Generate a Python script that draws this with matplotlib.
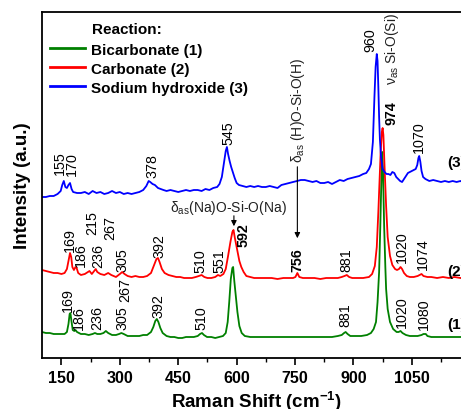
import matplotlib
matplotlib.use("Agg")
import matplotlib.pyplot as plt
from matplotlib.lines import Line2D

plt.rcParams["font.family"] = ["Liberation Sans", "DejaVu Sans"]
plt.rcParams["mathtext.fontset"] = "custom"
plt.rcParams["mathtext.rm"] = "Liberation Sans"
plt.rcParams["mathtext.it"] = "Liberation Sans:italic"
plt.rcParams["mathtext.bf"] = "Liberation Sans:bold"

# ---- spectra (Raman shift, offset intensity in a.u.) ----
blue_x = [100, 110, 120, 130, 140, 148, 152, 156, 160, 164, 168, 172, 176, 180, 190, 200, 210, 220, 230, 240,
          250, 260, 270, 280, 290, 300, 310, 320, 330, 340, 350, 360, 368, 374, 378, 384, 390, 398, 405, 412,
          420, 430, 440, 450, 460, 470, 480, 490, 500, 510, 520, 530, 540, 550, 556, 562, 568, 572, 575, 578,
          582, 586, 590, 595, 600, 606, 615, 625, 635, 645, 655, 665, 675, 685, 695, 705, 715, 725, 735, 745,
          755, 765, 775, 785, 795, 805, 815, 825, 835, 845, 855, 865, 875, 885, 895, 905, 915, 925, 933, 940,
          945, 950, 954, 957, 960, 962, 964, 966, 968, 971, 975, 980, 985, 990, 995, 1000, 1005, 1010, 1015, 1020,
          1025, 1030, 1035, 1040, 1045, 1050, 1055, 1060, 1064, 1067, 1069, 1072, 1075, 1079, 1085, 1095, 1105,
          1115, 1125, 1135, 1145, 1155, 1165, 1175, 1185, 1195, 1200]
blue_y = [160, 160, 161, 161, 163, 166, 172, 176, 170, 169, 172, 174, 168, 165, 164, 164, 165, 163, 166, 164,
          165, 163, 164, 166, 164, 165, 163, 164, 163, 164, 165, 167, 171, 176, 175, 173, 172, 169, 168, 167,
          166, 167, 166, 165, 166, 167, 166, 167, 167, 166, 168, 167, 169, 170, 173, 180, 196, 206, 210, 203,
          196, 190, 185, 179, 174, 172, 171, 170, 171, 170, 171, 170, 170, 171, 170, 169, 172, 173, 174, 175,
          176, 177, 177, 176, 175, 176, 174, 174, 175, 173, 175, 177, 176, 178, 179, 180, 181, 183, 184, 188,
          193, 215, 260, 290, 303, 296, 270, 240, 218, 200, 188, 185, 183, 183, 182, 185, 184, 180, 178, 176,
          175, 178, 181, 184, 185, 186, 187, 188, 192, 199, 201, 195, 186, 180, 178, 176, 177,
          176, 175, 176, 175, 176, 175, 176, 174, 175, 175]

red_x = [100, 110, 120, 130, 140, 150, 158, 164, 168, 172, 175, 178, 182, 186, 189, 193, 200, 210, 218, 222,
         228, 234, 238, 242, 250, 260, 270, 278, 290, 300, 306, 312, 320, 330, 340, 350, 360, 370, 380, 388,
         394, 398, 402, 408, 415, 425, 435, 445, 455, 465, 475, 485, 495, 503, 510, 517, 525, 535, 545, 552,
         558, 566, 572, 578, 584, 589, 592, 595, 599, 603, 607, 612, 618, 625, 635, 645, 660, 675, 690, 705,
         720, 735, 745, 751, 756, 761, 770, 785, 800, 815, 830, 845, 860, 870, 877, 883, 889, 897, 910, 925,
         940, 948, 955, 960, 964, 967, 970, 973, 975, 977, 980, 984, 988, 994, 1000, 1007, 1012, 1017, 1021, 1025,
         1030, 1037, 1045, 1055, 1065, 1070, 1075, 1080, 1090, 1100, 1115, 1130, 1145, 1160, 1175, 1190, 1200]
red_y = [87, 86, 85, 84, 84, 83, 84, 88, 96, 104, 100, 90, 87, 90, 89, 84, 82, 83, 85, 86,
         83, 86, 88, 85, 83, 82, 84, 82, 80, 83, 85, 83, 81, 80, 81, 80, 80, 81, 84, 92,
         98, 99, 95, 88, 84, 82, 81, 80, 80, 79, 79, 79, 80, 81, 82, 80, 79, 79, 80, 82,
         81, 83, 88, 101, 115, 125, 127, 120, 112, 104, 96, 90, 85, 81, 80, 79, 79, 79, 79, 78,
         79, 79, 79, 80, 84, 80, 79, 79, 79, 78, 79, 79, 79, 80, 81, 82, 80, 79, 79, 79,
         80, 83, 91, 110, 145, 175, 205, 225, 229, 222, 190, 151, 120, 101, 92, 88, 87, 88, 90, 88,
         84, 81, 80, 80, 81, 82, 83, 81, 80, 80, 79, 80, 79, 80, 79, 80, 79]

green_x = [100, 110, 120, 130, 140, 150, 158, 164, 168, 171, 173, 176, 179, 183, 186, 190, 200, 210, 220, 230,
           236, 242, 250, 258, 264, 270, 280, 290, 298, 304, 310, 320, 330, 340, 350, 360, 370, 380, 386, 391,
           395, 399, 404, 410, 420, 430, 440, 450, 460, 470, 480, 490, 500, 506, 511, 516, 524, 535, 545, 555,
           565, 572, 577, 581, 585, 589, 591, 594, 598, 602, 607, 613, 621, 635, 650, 665, 680, 695, 710, 725,
           740, 755, 770, 785, 800, 815, 830, 845, 860, 870, 876, 880, 885, 892, 905, 920, 935, 945, 952, 958,
           962, 966, 969, 972, 974, 976, 979, 982, 984, 988, 994, 1002, 1011, 1016, 1021, 1026, 1035, 1045, 1055, 1065,
           1075, 1080, 1086, 1090, 1100, 1115, 1130, 1145, 1160, 1175, 1190, 1200]
green_y = [25, 24, 24, 23, 23, 23, 23, 25, 33, 43, 44, 35, 27, 26, 27, 25, 23, 23, 22, 23,
           24, 23, 23, 24, 26, 24, 22, 22, 23, 24, 23, 21, 21, 21, 21, 22, 22, 25, 30, 36,
           38, 35, 29, 24, 21, 20, 20, 19, 19, 20, 20, 20, 21, 23, 24, 22, 20, 20, 19, 20,
           21, 24, 35, 55, 78, 89, 90, 76, 60, 45, 31, 24, 21, 20, 20, 20, 20, 20, 20, 20,
           20, 20, 20, 20, 20, 20, 20, 20, 21, 22, 24, 25, 23, 21, 21, 21, 22, 24, 28, 35,
           55, 85, 130, 180, 205, 185, 130, 90, 68, 48, 35, 28, 25, 25, 26, 24, 22, 21, 21, 21,
           22, 23, 23, 21, 20, 20, 20, 20, 20, 20, 20, 20]

# ---- peak labels: (text, x, bottom y, bold) ----
blue_labels = [("155", 145.5, 183, False), ("170", 178, 182, False), ("378", 382.5, 180, False),
               ("545", 578, 213, False), ("960", 942.6, 306, False), ("1070", 1069, 205, False)]
red_labels = [("169", 172.8, 106, False), ("186", 200, 91, False), ("215", 228, 123, False),
              ("236", 245.5, 90, False), ("267", 275.5, 118, False), ("305", 305.5, 86, False),
              ("392", 401, 100, False), ("510", 506, 85, False), ("551", 555, 85, False),
              ("592", 617, 111, True), ("756", 756, 86, True), ("881", 882.6, 86, False),
              ("974", 998, 233, True), ("1020", 1024, 95, False), ("1074", 1079, 88, False)]
green_labels = [("169", 167, 46, False), ("186", 196, 28, False), ("236", 241, 28, False),
                ("305", 305.5, 28, False), ("267", 314, 56, False), ("392", 400, 40, False),
                ("510", 510, 28, False), ("881", 880, 31, False), ("1020", 1024, 30, False),
                ("1080", 1081, 28, False)]

series_names = ["Bicarbonate (1)", "Carbonate (2)", "Sodium hydroxide (3)"]
colors = ["#008000", "#ff0000", "#0000ff"]

fig = plt.figure(figsize=(4.61, 4.10), dpi=100)
ax = fig.add_axes([42 / 461, 51 / 410, 428.2 / 461, 346.3 / 410])

ax.plot(green_x, green_y, color=colors[0], lw=1.3)
ax.plot(red_x, red_y, color=colors[1], lw=1.3)
ax.plot(blue_x, blue_y, color=colors[2], lw=1.3)

for labels in (blue_labels, red_labels, green_labels):
    for txt, x, y, bold in labels:
        ax.text(x, y, txt, rotation=90, ha="center", va="bottom", fontsize=10.3,
                fontweight="bold" if bold else "normal")

# assignments
ax.text(578, 150, r"$\mathrm{\delta}_{\mathrm{as}}$(Na)O-Si-O(Na)", ha="center", va="center",
        fontsize=10, color="#222222")
ax.annotate("", xy=(593, 128), xytext=(593, 144),
            arrowprops=dict(arrowstyle="-|>", color="k", lw=0.8, mutation_scale=8))
ax.text(758, 195, r"$\mathrm{\delta}_{\mathrm{as}}$ (H)O-Si-O(H)", rotation=90, ha="center", va="bottom",
        fontsize=10, color="#222222")
ax.annotate("", xy=(756, 116), xytext=(756, 193),
            arrowprops=dict(arrowstyle="-|>", color="k", lw=0.8, mutation_scale=8))
ax.text(998, 273, r"$\mathrm{\nu}_{\mathrm{as}}$ Si-O(Si)", rotation=90, ha="center", va="bottom",
        fontsize=10, color="#222222")

for txt, y in (("(3)", 195), ("(2)", 86), ("(1)", 33)):
    ax.text(1142, y, txt, ha="left", va="center", fontsize=11, fontweight="bold")

# legend
handles = [Line2D([], [], color=c, lw=2) for c in colors]
ax.legend(handles, series_names, loc="upper left", bbox_to_anchor=(0.0187, 0.911), frameon=False,
          borderpad=0, borderaxespad=0, handlelength=2.3, handletextpad=0.4, labelspacing=0.33,
          prop={"weight": "bold", "size": 11})
ax.text(0.1168, 0.951, "Reaction:", transform=ax.transAxes, ha="left", va="center",
        fontsize=11, fontweight="bold")

ax.set_xlim(100, 1200)
ax.set_ylim(-1, 345.3)
ax.set_xticks([150, 300, 450, 600, 750, 900, 1050])
ax.set_xticks([225, 375, 525, 675, 825, 975, 1125], minor=True)
ax.set_yticks([])
ax.tick_params(axis="x", which="major", direction="out", length=5, width=1.2, labelsize=11.5)
ax.tick_params(axis="x", which="minor", direction="out", length=3, width=1.0)
for lab in ax.get_xticklabels():
    lab.set_fontweight("bold")
for sp in ax.spines.values():
    sp.set_linewidth(1.3)

ax.set_xlabel(r"Raman Shift (cm$^{\mathbf{-1}}$)", fontsize=13.5, fontweight="bold", labelpad=3)
ax.set_ylabel("Intensity (a.u.)", fontsize=13.5, fontweight="bold", labelpad=8)

fig.savefig("out.png", dpi=100)
